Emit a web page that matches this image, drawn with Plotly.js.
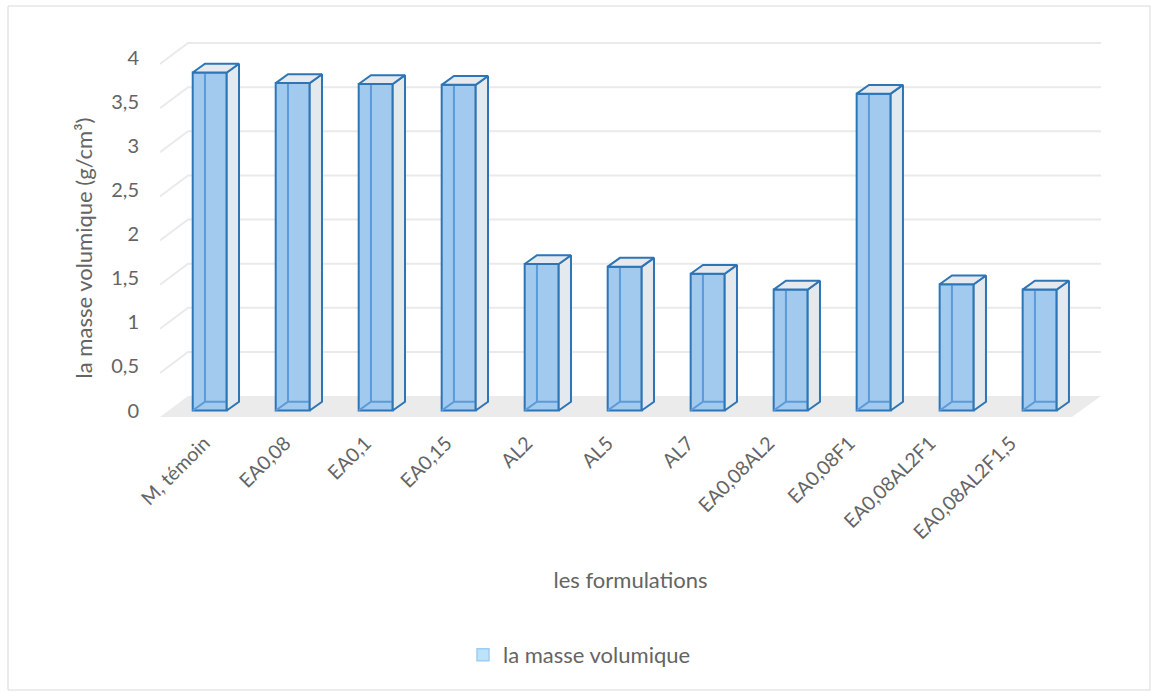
<!DOCTYPE html>
<html>
<head>
<meta charset="utf-8">
<script src="https://cdn.plot.ly/plotly-3.0.1.min.js"></script>
<style>html,body{margin:0;padding:0;background:#ffffff;}</style>
</head>
<body>
<div id="chart" style="width:1151px;height:692px;"></div>
<script>
// Density of each formulation (g/cm³)
const formulations = ['M, témoin', 'EA0,08', 'EA0,1', 'EA0,15', 'AL2', 'AL5', 'AL7',
  'EA0,08AL2', 'EA0,08F1', 'EA0,08AL2F1', 'EA0,08AL2F1,5'];
const masseVolumique = [3.83, 3.71, 3.70, 3.69, 1.66, 1.63, 1.55, 1.37, 3.59, 1.43, 1.37];
const yTickVals = [0, 0.5, 1, 1.5, 2, 2.5, 3, 3.5, 4];
const yTickLabels = ['0', '0,5', '1', '1,5', '2', '2,5', '3', '3,5', '4'];

// Pseudo-3D box geometry, in axis units
const W = 0.41;      // front face width
const DX = 0.148;    // depth offset along x
const DY = 0.0997;   // depth offset along y
const FRONT_DROP = 0.074;  // front plane of the floor below bar plane
const BACK_RISE = 0.164;   // back wall above bar plane
const X0 = -0.599, X1 = 10.739, XBACK = -0.261, XFLOOR_R = 10.389;
const Y0 = -0.5156, Y1 = 4.1983;
// category labels sit on the front edge of the floor, slightly tighter than the boxes
const XL0 = -0.5507, XL1 = 11.121;

const TEXT = '#646464';
const EDGE = '#2E75B6';

const idx = formulations.map((_, i) => i);

// Faces of each box, built from the values
const topFace = {x: [], y: []}, sideFace = {x: [], y: []}, backEdges = {x: [], y: []};
idx.forEach(i => {
  const v = masseVolumique[i];
  const xl = i - W / 2, xr = i + W / 2;
  topFace.x.push(xl, xr, xr + DX, xl + DX, xl, null);
  topFace.y.push(v, v, v + DY, v + DY, v, null);
  sideFace.x.push(xr, xr + DX, xr + DX, xr, xr, null);
  sideFace.y.push(0, DY, v + DY, v, 0, null);
  backEdges.x.push(xl, xl + DX, xr + DX, null, xl + DX, xl + DX, null);
  backEdges.y.push(0, DY, DY, null, DY, v + DY, null);
});

const traces = [
  {
    type: 'bar', x: idx, y: masseVolumique, width: W,
    marker: {color: '#A2C9EE', line: {color: EDGE, width: 2}},
    showlegend: false, hoverinfo: 'y'
  },
  {
    type: 'scatter', mode: 'lines', x: backEdges.x, y: backEdges.y,
    line: {color: '#5B9BD9', width: 2}, showlegend: false, hoverinfo: 'skip'
  },
  {
    type: 'scatter', mode: 'lines', x: sideFace.x, y: sideFace.y, fill: 'toself',
    fillcolor: '#E4E9EE', line: {color: EDGE, width: 2}, showlegend: false, hoverinfo: 'skip'
  },
  {
    type: 'scatter', mode: 'lines', x: topFace.x, y: topFace.y, fill: 'toself',
    fillcolor: '#E6EAEF', line: {color: EDGE, width: 2}, showlegend: false, hoverinfo: 'skip'
  },
  {
    // legend entry, on the label axis
    type: 'bar', x: [null], y: [null], xaxis: 'x2', name: 'la masse volumique',
    marker: {color: '#BDE3FA', line: {color: '#9DCDF4', width: 1.5}}, hoverinfo: 'skip'
  }
];

// plot area in pixels
const L = 160, R = 50, T = 40, B = 236;
const PW = 1151 - L - R, PH = 692 - T - B;
const py = p => (T + PH - p) / PH;   // pixel row -> paper y
const px = p => (p - L) / PW;        // pixel column -> paper x

// Floor and back-wall gridlines
const shapes = [{
  type: 'path', xref: 'x', yref: 'y', layer: 'below',
  path: `M ${X0} ${-FRONT_DROP} L ${XBACK} ${BACK_RISE} L ${X1} ${BACK_RISE} L ${XFLOOR_R} ${-FRONT_DROP} Z`,
  fillcolor: '#EBEBEB', line: {width: 0}
}];
yTickVals.slice(1).forEach(v => {
  shapes.push({
    type: 'path', xref: 'x', yref: 'y', layer: 'below',
    path: `M ${X0} ${v - FRONT_DROP} L ${XBACK} ${v + BACK_RISE} L ${X1} ${v + BACK_RISE}`,
    line: {color: '#EAEAEA', width: 2}
  });
});

// chart frame
shapes.push({
  type: 'rect', xref: 'paper', yref: 'paper',
  x0: px(8), x1: px(1150), y0: py(690), y1: py(6),
  line: {color: '#D9D9D9', width: 1}, fillcolor: 'rgba(0,0,0,0)', layer: 'below'
});

const layout = {
  width: 1151, height: 692,
  margin: {l: L, r: R, t: T, b: B},
  paper_bgcolor: '#ffffff', plot_bgcolor: '#ffffff',
  font: {family: 'Lato, "Open Sans", sans-serif', color: TEXT, size: 20},
  bargap: 0,
  xaxis: {
    range: [X0, X1], showticklabels: false,
    showgrid: false, zeroline: false, showline: false, ticks: ''
  },
  xaxis2: {
    overlaying: 'x', anchor: 'free', position: py(417),
    range: [XL0, XL1], tickvals: idx, ticktext: formulations, tickangle: -45,
    showgrid: false, zeroline: false, showline: false, ticks: '',
    ticklabelstandoff: 10, tickfont: {size: 19.5, color: TEXT},
    title: {text: 'les formulations', font: {size: 22, color: TEXT}, standoff: 30}
  },
  yaxis: {
    range: [Y0, Y1], tickvals: yTickVals, ticktext: yTickLabels,
    showgrid: false, zeroline: false, showline: false, ticks: '',
    ticklabelshift: -6.5, ticklabelstandoff: 20, tickfont: {size: 20, color: TEXT},
    title: {text: 'la masse volumique (g/cm³)', font: {size: 22, color: TEXT}, standoff: 12}
  },
  legend: {
    orientation: 'h', x: px(463), xanchor: 'left',
    y: py(655), yanchor: 'middle',
    font: {size: 22, color: TEXT}
  },
  shapes: shapes,
  showlegend: true
};

Plotly.newPlot('chart', traces, layout, {displayModeBar: false, staticPlot: true});
</script>
</body>
</html>
